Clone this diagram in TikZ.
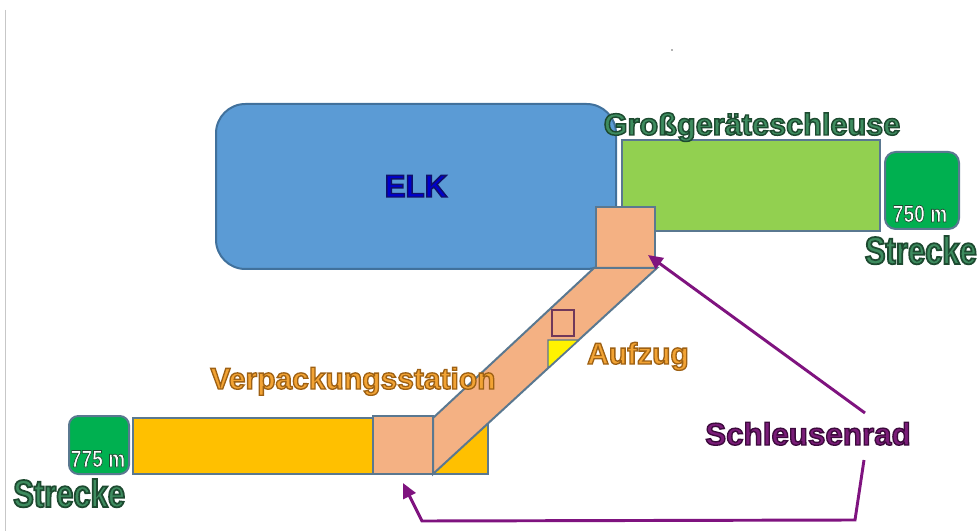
\documentclass[tikz,border=0pt]{standalone}
\usepackage{fontspec}
\setmainfont{Liberation Sans}
\newfontfamily\narrowsans[FakeStretch=0.8]{Liberation Sans}
\usetikzlibrary{arrows.meta}
% outlined text: #1 = stroke rgb, #2 = stroke width, #3 = text
\newcommand\otext[3]{\special{pdf:literal direct 2 Tr #2 w #1 RG}#3\special{pdf:literal direct 0 Tr}}
\definecolor{elkblue}{HTML}{5B9BD5}
\definecolor{elkborder}{HTML}{41719C}
\definecolor{bordgray}{HTML}{5A7890}
\definecolor{lgreen}{HTML}{92D050}
\definecolor{dgreen}{HTML}{00B050}
\definecolor{peach}{HTML}{F4B183}
\definecolor{gold}{HTML}{FFC000}
\definecolor{elktext}{HTML}{0000CC}
\definecolor{grtext}{HTML}{3E8C5F}
\definecolor{ortext}{HTML}{F2A334}
\definecolor{putext}{HTML}{7A1C78}
\definecolor{parrowc}{HTML}{7F137F}
\definecolor{pbox}{HTML}{70385A}
\def\elkout{0.063 0.063 0.416}
\def\grout{0.114 0.290 0.188}
\def\orout{0.62 0.38 0.08}
\def\puout{0.235 0.039 0.235}
\tikzset{
  bord/.style={draw=bordgray, line width=1.5pt},
  lbl/.style={inner sep=0pt, font=\bfseries\fontsize{22.5}{27}\selectfont},
  strk/.style={inner sep=0pt, font=\narrowsans\bfseries\fontsize{29}{34}\selectfont},
  meter/.style={inner sep=0pt, font=\narrowsans\bfseries\fontsize{18}{21}\selectfont},
  parrow/.style={draw=parrowc, line width=2.2pt, line join=miter,
     -{Triangle[length=11pt,width=10pt]}},
}
\begin{document}
\begin{tikzpicture}[x=0.75pt,y=-0.75pt]
\useasboundingbox (0,0) rectangle (979,531);
% left frame line
\draw[black!22, line width=1.2pt] (5.5,10) -- (5.5,531);
% stray dot
\fill[black!60] (672,50) circle (0.7pt);
% ELK
\draw[draw=elkborder, line width=1.5pt, fill=elkblue, rounded corners=22pt] (216,104) rectangle (616,269);
% Grossgeraeteschleuse
\draw[bord, fill=lgreen] (622,140) rectangle (880,231);
% dark green 750
\draw[bord, fill=dgreen, rounded corners=8pt] (885,152) rectangle (959,229);
% top peach square
\draw[bord, fill=peach] (596,207) rectangle (655,268);
% lower gold rect
\draw[bord, fill=gold] (133,418) rectangle (488,474);
% diagonal band
\draw[bord, fill=peach, line join=miter] (594,268) -- (657,268) -- (433,474) -- (433,418) -- cycle;
% lower peach square
\draw[bord, fill=peach] (373,416) rectangle (433,474);
% dark green 775
\draw[bord, fill=dgreen, rounded corners=7pt] (69,416) rectangle (129,474);
% Aufzug marks
\draw[draw=pbox, line width=2.2pt] (552,310) rectangle (574,336);
\draw[draw=bordgray, line width=1pt, fill=yellow] (548,340) -- (578.7,340) -- (548,368) -- cycle;

% texts
\node[lbl, font=\bfseries\fontsize{23.5}{28}\selectfont, anchor=base] (elk) at (416,197) {\color{elktext}\otext{\elkout}{1.1}{ELK}};
\node[lbl, font=\bfseries\fontsize{23}{28}\selectfont, anchor=base] (gross) at (752,135) {\color{grtext}\otext{\grout}{1.1}{Großgeräteschleuse}};
\node[strk, anchor=base east] (str1) at (977,264) {\color{grtext}\otext{\grout}{1.3}{Strecke}};
\node[strk, anchor=base west] (str2) at (13,507) {\color{grtext}\otext{\grout}{1.3}{Strecke}};
\node[meter, anchor=base] (m750) at (920,222) {\color{white}\otext{\grout}{0.5}{750 m}};
\node[meter, anchor=base] (m775) at (98,467) {\color{white}\otext{\grout}{0.5}{775 m}};
\node[lbl, anchor=base] (verp) at (353,389) {\color{ortext}\otext{\orout}{1.0}{Verpackungsstation}};
\node[lbl, anchor=base] (aufz) at (638,364) {\color{ortext}\otext{\orout}{1.0}{Aufzug}};
\node[lbl, font=\bfseries\fontsize{23.5}{28}\selectfont, anchor=base] (rad) at (808,445) {\color{putext}\otext{\puout}{1.0}{Schleusenrad}};

% arrows
\coordinate (s1) at (865,413);
\coordinate (t1) at (648,255);
\coordinate (s2) at (864,460);
\coordinate (b1) at (855,520);
\coordinate (b2) at (422,521);
\coordinate (t2) at (403,483);
\draw[parrow] (s1) -- (t1);
\draw[parrow] (s2) -- (b1) -- (b2) -- (t2);
\end{tikzpicture}
\end{document}
